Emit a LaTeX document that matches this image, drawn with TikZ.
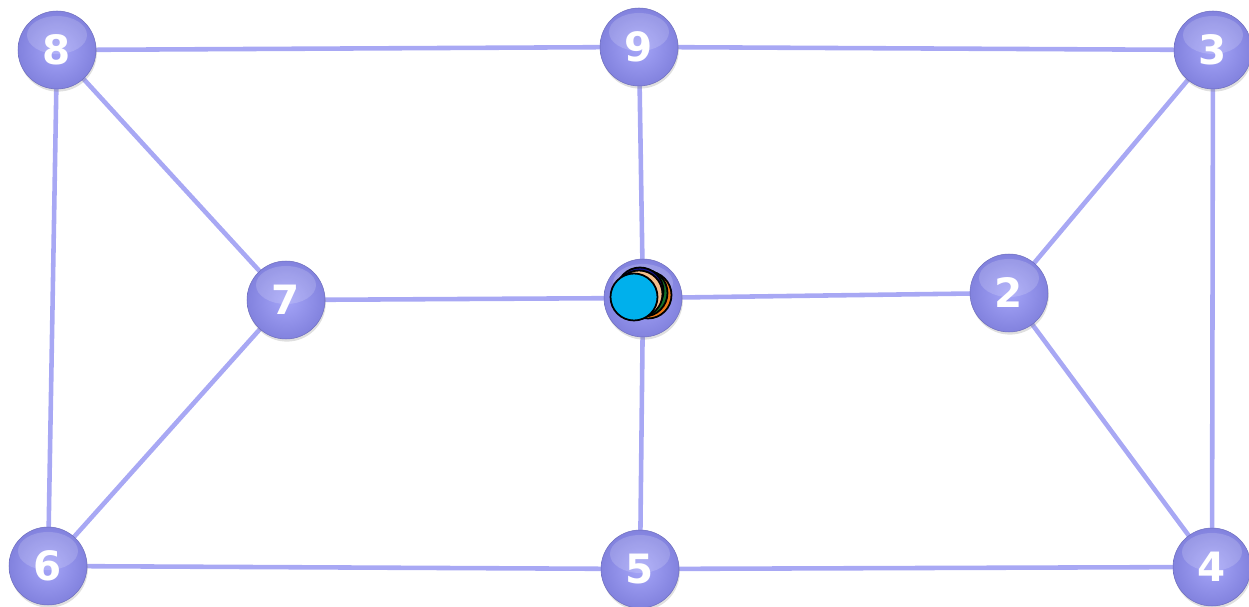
\documentclass[tikz,border=0pt]{standalone}
\usepackage{fontspec}
\newfontfamily\numfont{DejaVu Sans}
\usetikzlibrary{shadows}
\definecolor{edgecol}{RGB}{168,168,244}
\definecolor{ballin}{RGB}{165,165,248}
\definecolor{ballout}{RGB}{130,130,222}
\definecolor{discorange}{RGB}{235,120,20}
\definecolor{discgreen}{RGB}{20,110,40}
\definecolor{discblue}{RGB}{20,20,140}
\definecolor{disctan}{RGB}{245,190,140}
\definecolor{disccyan}{RGB}{0,176,236}
\tikzset{
  vert/.style={circle, minimum size=1.56cm, inner sep=0pt,
    inner color=ballin, outer color=ballout, draw=ballout!85!black, line width=0.3pt,
    drop shadow={shadow xshift=0.5pt, shadow yshift=-1.5pt, opacity=0.25},
    text=white, font=\numfont\bfseries\fontsize{23}{23}\selectfont},
  gloss/.style={fill=white, fill opacity=0.16, draw=none},
  edge/.style={draw=edgecol, line width=2.6pt},
  disc/.style={circle, draw=black, line width=1pt, minimum size=0.94cm, inner sep=0pt}
}
\begin{document}
\begin{tikzpicture}[x=0.02cm, y=-0.02cm]
\useasboundingbox (0,0) rectangle (1249,607);
\coordinate (p8) at (57,50);
\coordinate (p9) at (639,47);
\coordinate (p3) at (1213,50);
\coordinate (p7) at (286,300);
\coordinate (p1) at (643,298);
\coordinate (p2) at (1009,293);
\coordinate (p6) at (48,566);
\coordinate (p5) at (640,569);
\coordinate (p4) at (1212,567);
\draw[edge] (p8) -- (p9);
\draw[edge] (p9) -- (p3);
\draw[edge] (p8) -- (p7);
\draw[edge] (p8) -- (p6);
\draw[edge] (p9) -- (p1);
\draw[edge] (p3) -- (p2);
\draw[edge] (p3) -- (p4);
\draw[edge] (p7) -- (p1);
\draw[edge] (p1) -- (p2);
\draw[edge] (p7) -- (p6);
\draw[edge] (p1) -- (p5);
\draw[edge] (p2) -- (p4);
\draw[edge] (p6) -- (p5);
\draw[edge] (p5) -- (p4);
\foreach \n/\t in {8/8,9/9,3/3,7/7,1/1,2/2,6/6,5/5,4/4}{
  \node[vert] (n\n) at (p\n) {};
  \fill[gloss] ([yshift=0.3cm]p\n) ellipse [x radius=0.6cm, y radius=0.38cm];
  \node[text=white, font=\numfont\bfseries\fontsize{23}{23}\selectfont] (t\n) at (n\n.center) {\t};
}
\node[disc, fill=discorange] (d1) at (648,295) {};
\node[disc, fill=discgreen] (d2) at (644,293) {};
\node[disc, fill=discblue] (d3) at (640,291) {};
\node[disc, fill=disctan] (d4) at (639,294) {};
\node[disc, fill=disccyan] (d5) at (634,297) {};
\end{tikzpicture}
\end{document}
